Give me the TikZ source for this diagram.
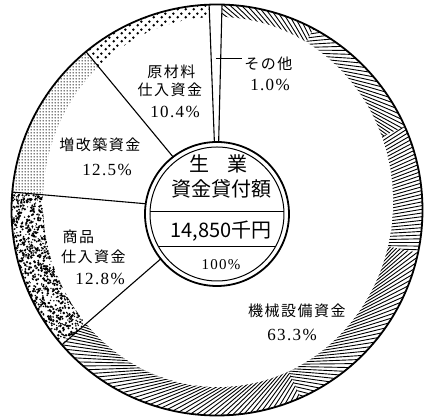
\documentclass[tikz,border=0pt]{standalone}
\usepackage{fontspec}
\newfontfamily\cjk{Noto Sans CJK JP}[LetterSpace=10]
\newfontfamily\cjkc{Noto Sans CJK JP}
\newfontfamily\numfont{Liberation Serif}[LetterSpace=8]
\usetikzlibrary{patterns}
\pgfdeclarepatternformonly{bigdots}{\pgfqpoint{0pt}{0pt}}{\pgfqpoint{8pt}{8pt}}{\pgfqpoint{8pt}{8pt}}{
  \pgfpathcircle{\pgfqpoint{2pt}{2pt}}{1.5pt}
  \pgfpathcircle{\pgfqpoint{6pt}{6pt}}{1.5pt}
  \pgfusepath{fill}}
\pgfdeclarepatternformonly{finedots}{\pgfqpoint{0pt}{0pt}}{\pgfqpoint{3pt}{3pt}}{\pgfqpoint{3pt}{3pt}}{
  \pgfpathcircle{\pgfqpoint{1.5pt}{1.5pt}}{0.85pt}
  \pgfusepath{fill}}
\newcommand{\lbl}{\cjk\fontsize{15}{18}\selectfont}
\newcommand{\bigjp}{\cjkc\fontsize{20}{22}\selectfont}
\newcommand{\pct}{\numfont\fontsize{17}{20}\selectfont}

\begin{document}
\begin{tikzpicture}[x=1pt, y=1pt,
  lab/.style={font=\lbl, inner sep=0pt},
  num/.style={font=\pct, inner sep=0pt},
  title/.style={font=\bigjp, inner sep=0pt},
  spoke/.style={line width=1.1pt},
  hatch/.style={line width=0.9pt},
  rim/.style={line width=1.8pt}]
\useasboundingbox (-217,-209) rectangle (207,210);
\coordinate (O) at (0,0);
\coordinate (C) at (0,-4);
% tones in the outer band
\fill[pattern=bigdots] (O) -- (92.2:205.5) arc[start angle=92.2, end angle=129.6, radius=205.5] -- cycle;
\fill[pattern=finedots] (O) -- (129.6:205.5) arc[start angle=129.6, end angle=175, radius=205.5] -- cycle;
\begin{scope}
  \clip (O) -- (175:230) arc[start angle=175, end angle=221, radius=230] -- cycle;
  \clip (O) circle (205.5);
  \pgfmathsetseed{42}
  \foreach \i in {1,...,1000}{
    \pgfmathsetmacro\pa{173+50*rnd}
    \pgfmathsetmacro\pr{170+36*rnd}
    \pgfmathsetmacro\ps{0.6+0.8*rnd}
    \fill (\pa:\pr) circle (\ps);
  }
\end{scope}
% hatching, one piece per direction
\foreach \ta/\tb/\sg/\dd in {88.6/62/1/160, 62/24/-1/160, 24/-12/1/33, -12/-66/1/155, -66/-139/-1/155}{
  \pgfmathsetmacro\dt{200/(100*sqrt(1.96^2-(\dd/100)^2))}
  \pgfmathsetmacro\am{acos(\dd/196)}
  \pgfmathsetmacro\ao{acos(\dd/208)}
  \pgfmathsetmacro\tstart{\ta+12}
  \pgfmathsetmacro\tnext{\ta+12-\dt}
  \pgfmathsetmacro\tend{\tb-12}
  \begin{scope}
    \clip (O) circle (205.5);
    \clip (O) -- (\ta:230) arc[start angle=\ta, end angle=\tb, radius=230] -- cycle;
    \foreach \tm in {\tstart,\tnext,...,\tend}
      \draw[hatch] ({\tm-(\sg)*\am}:\dd) -- ({\tm-(\sg)*\am+(\sg)*\ao}:208);
  \end{scope}
}
\fill[white] (1,8) ellipse [x radius=175, y radius=185];
% sector borders
\foreach \a in {88.6, 92.2, 129.6, 175, 221}
  \draw[spoke] (O) -- (\a:205.5);
\draw[rim] (O) circle (205.5);
% centre disc
\draw[rim, fill=white] (C) circle (72);
\draw[line width=1pt] (C) circle (67);
\begin{scope}
  \clip (C) circle (67);
  \draw[line width=1pt] (-70,-1.5) -- (70,-1.5);
  \draw[line width=1pt] (-70,-37) -- (70,-37);
\end{scope}
\node[title] (gyo) at (1.5,46.5) {生\hspace{18pt}業};
\node[title] (shikin) at (5,21) {資金貸付額};
\node[title] (amount) at (4,-21) {14,850千円};
\node[inner sep=0pt, font=\numfont\fontsize{15}{18}\selectfont] (total) at (4,-55) {100\%};
% labels
\node[lab] (raw1) at (-45.5,138.5) {原材料};
\node[lab] (raw2) at (-47,120) {仕入資金};
\node[num] (raw3) at (-42,98.5) {10.4\%};
\node[lab] (ext1) at (-117,65) {増改築資金};
\node[num] (ext2) at (-110,40.5) {12.5\%};
\node[lab] (goods1) at (-138.5,-26.5) {商品};
\node[lab] (goods2) at (-123.5,-46.5) {仕入資金};
\node[num] (goods3) at (-117,-68.5) {12.8\%};
\node[lab] (oth1) at (51.5,146.5) {その他};
\node[num] (oth2) at (53,125.5) {1.0\%};
\coordinate (lead) at (-1,152);
\draw[line width=0.9pt] (lead) -- ([xshift=-2pt]lead -| oth1.west);
\node[lab] (mach1) at (80,-100.5) {機械設備資金};
\node[num] (mach2) at (75,-124.5) {63.3\%};
\end{tikzpicture}
\end{document}
